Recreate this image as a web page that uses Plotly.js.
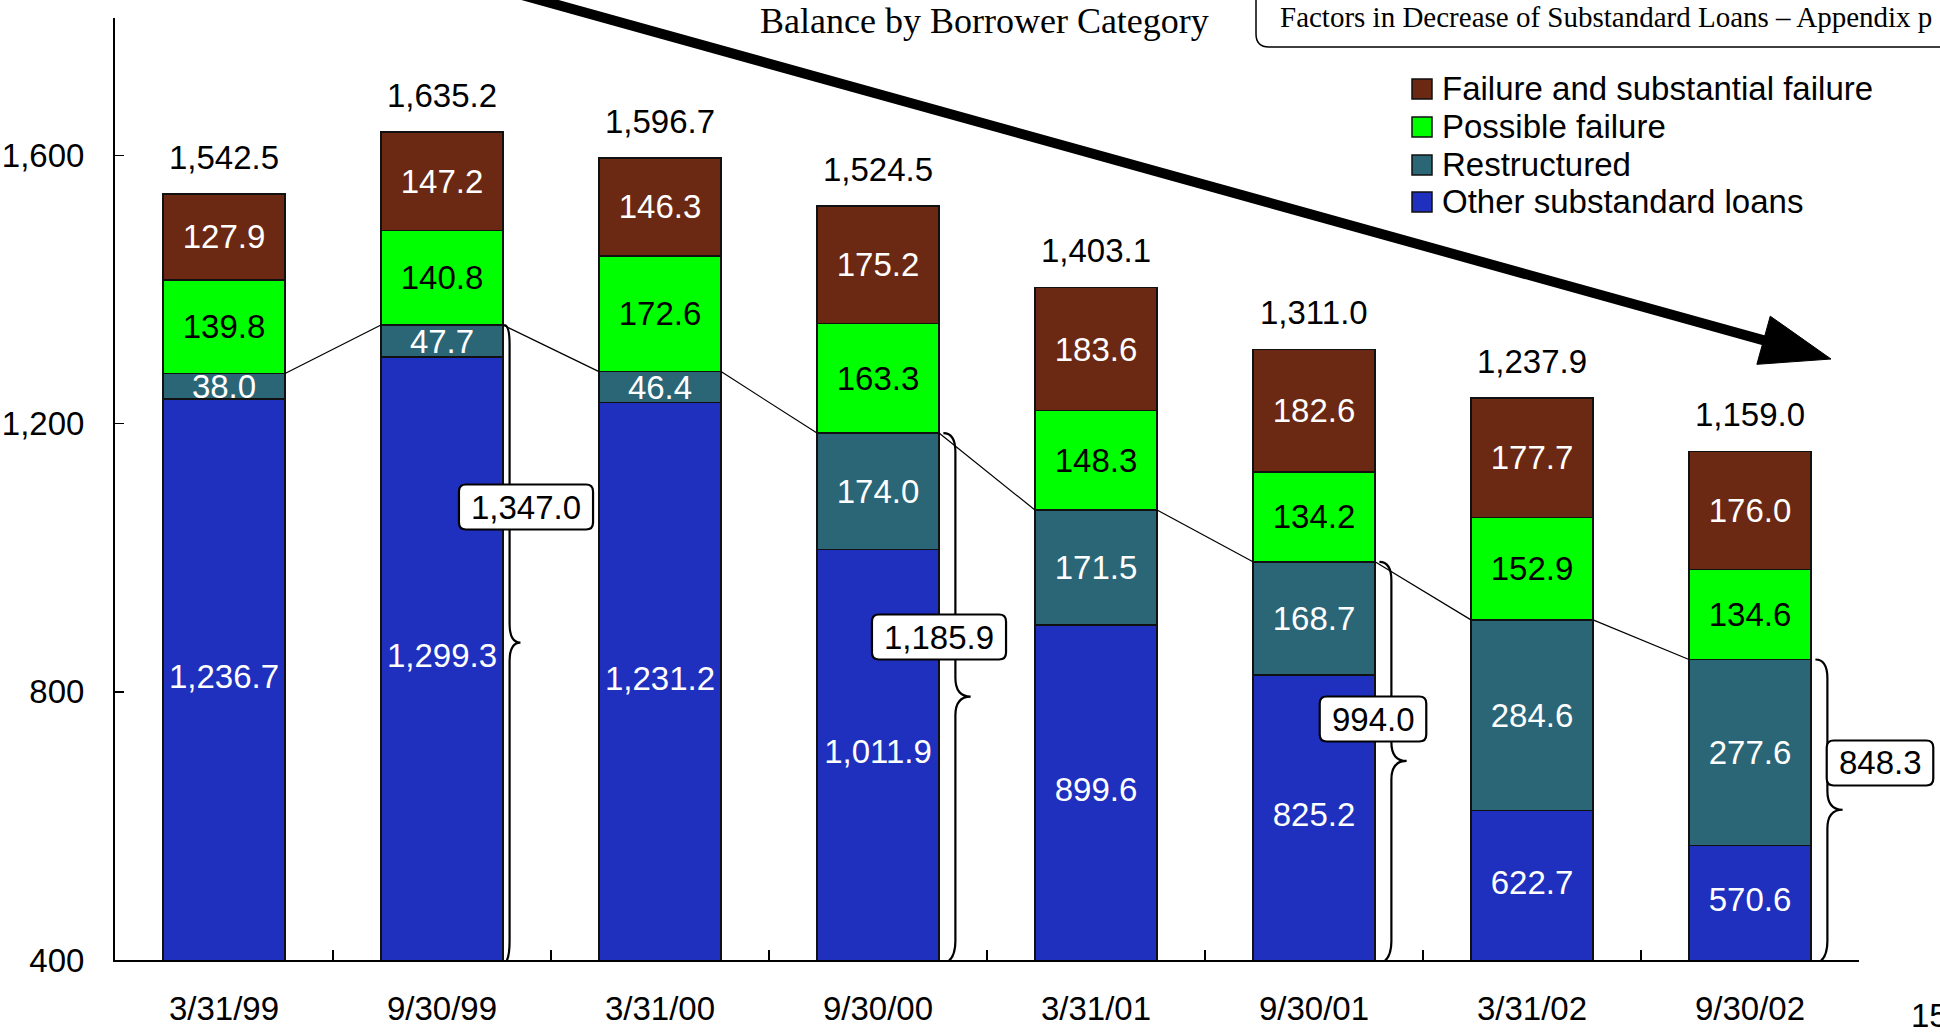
<!DOCTYPE html>
<html>
<head>
<meta charset="utf-8">
<script src="https://cdn.plot.ly/plotly-3.0.1.min.js"></script>
<style>html,body{margin:0;padding:0;background:#fff;}#chart{width:1940px;height:1033px;}</style>
</head>
<body>
<div id="chart"></div>
<script>
const categories = ['3/31/99','9/30/99','3/31/00','9/30/00','3/31/01','9/30/01','3/31/02','9/30/02'];
const seriesNames = ['Other substandard loans','Restructured','Possible failure','Failure and substantial failure'];
const failure = [127.9,147.2,146.3,175.2,183.6,182.6,177.7,176.0];
const possible = [139.8,140.8,172.6,163.3,148.3,134.2,152.9,134.6];
const restructured = [38.0,47.7,46.4,174.0,171.5,168.7,284.6,277.6];
const other = [1236.7,1299.3,1231.2,1011.9,899.6,825.2,622.7,570.6];
const totals = [1542.5,1635.2,1596.7,1524.5,1403.1,1311.0,1237.9,1159.0];
const braceIndex = [1,3,5,7];
const braceValues = [1347.0,1185.9,994.0,848.3];
const yTicks = [400,800,1200,1600];

const FONT = 'Arial, "Liberation Sans", sans-serif';
const SERIF = '"Liberation Serif", "DejaVu Serif", serif';
const FS = 33;
const COLORS = ['#1F30BF','#2B6677','#00FF00','#6B2914'];
const xs = categories.map((c,i)=>i);
const BW = 0.56;
const YMIN = 400, YMAX = 1805;

// plot area pixels
const L=115, R=1859, T=18, B=960;
const PW=R-L, PH=B-T;
const px = x => (x-L)/PW;
const py = y => (B-y)/PH;

const fmt = v => v.toLocaleString('en-US',{minimumFractionDigits:1, maximumFractionDigits:1});

function barTrace(k, vals, textColor, showText){
  return {
    type:'bar', name:seriesNames[k], x:xs, y:vals, width:BW,
    marker:{color:COLORS[k], line:{color:'#111', width:1.5}},
    text: showText ? vals.map(fmt) : null, textposition: showText ? 'inside' : 'none', insidetextanchor:'middle',
    textangle:0, constraintext:'none', cliponaxis:false,
    textfont:{family:FONT, size:FS, color:textColor},
    hoverinfo:'skip', showlegend:false
  };
}

const traces = [
  barTrace(0, other, '#ffffff', false),
  barTrace(1, restructured, '#ffffff', true),
  barTrace(2, possible, '#000000', true),
  barTrace(3, failure, '#ffffff', true),
  // labels of the lowest segment, centred in its visible part (above the axis minimum)
  {type:'scatter', mode:'text', x:xs, y:other.map(v=>(YMIN+v)/2), text:other.map(fmt), textposition:'middle center',
    textfont:{family:FONT, size:FS, color:'#ffffff'}, showlegend:false, hoverinfo:'skip', cliponaxis:false},
  // invisible trace on xaxis2 to show boundary ticks
  {type:'scatter', x:[0], y:[YMIN], xaxis:'x2', mode:'markers', marker:{opacity:0}, showlegend:false, hoverinfo:'skip'}
];

const shapes = [];
const annotations = [];

// totals above bars
xs.forEach((x,i)=>{
  annotations.push({x:x, y:totals[i], xref:'x', yref:'y', text:fmt(totals[i]), showarrow:false,
    yanchor:'bottom', yshift:16, font:{family:FONT, size:FS, color:'#000'}});
});

// connecting lines between tops of (other + restructured)
const base2 = other.map((v,i)=>v+restructured[i]);
for(let i=0;i<xs.length-1;i++){
  shapes.push({type:'line', xref:'x', yref:'y', x0:xs[i]+BW/2, y0:base2[i], x1:xs[i+1]-BW/2, y1:base2[i+1],
    line:{color:'#000', width:1.2}});
}

function roundRect(cx, cy, w, h, r){
  const x0=cx-w/2, x1=cx+w/2, y0=cy-h/2, y1=cy+h/2;
  const P=(x,y)=>`${px(x)},${py(y)}`;
  return `M ${P(x0+r,y0)} L ${P(x1-r,y0)} Q ${P(x1,y0)} ${P(x1,y0+r)} L ${P(x1,y1-r)} Q ${P(x1,y1)} ${P(x1-r,y1)} L ${P(x0+r,y1)} Q ${P(x0,y1)} ${P(x0,y1-r)} L ${P(x0,y0+r)} Q ${P(x0,y0)} ${P(x0+r,y0)} Z`;
}

// braces and labelled boxes (box centres in pixels)
const boxPx = [[526,507],[939,637],[1373,719],[1880,763]];
braceIndex.forEach((bi,k)=>{
  const top = base2[bi];
  const bot = YMIN;
  const mid = (top+bot)/2;
  const xe = xs[bi]+BW/2 + (k===0?0.005:0.02);
  const xb = xs[bi]+BW/2 + (k===0?0.03:0.075);
  const xt = xs[bi]+BW/2 + (k===0?0.08:0.145);
  const r = 28;
  const path = `M ${xe},${top} Q ${xb},${top} ${xb},${top-r} L ${xb},${mid+r} Q ${xb},${mid} ${xt},${mid} Q ${xb},${mid} ${xb},${mid-r} L ${xb},${bot+r} Q ${xb},${bot} ${xe},${bot-6}`;
  shapes.push({type:'path', xref:'x', yref:'y', path:path, line:{color:'#000', width:2.2}, layer:'above'});
  const label = fmt(braceValues[k]);
  const tw = label.split('').reduce((s,c)=>s + ((c===','||c==='.')?0.278:0.556), 0) * FS;
  shapes.push({type:'path', xref:'paper', yref:'paper', path:roundRect(boxPx[k][0], boxPx[k][1], tw+24, 45, 7),
    fillcolor:'#fff', line:{color:'#000', width:2.2}, layer:'above'});
  annotations.push({x:px(boxPx[k][0]), y:py(boxPx[k][1]), xref:'paper', yref:'paper', text:label, showarrow:false,
    xanchor:'center', yanchor:'middle', font:{family:FONT, size:FS, color:'#000'}});
});

// manual legend (top item first)
const legendY = [89,127,165,202];
[3,2,1,0].forEach((k,j)=>{
  const cy = legendY[j];
  shapes.push({type:'rect', xref:'paper', yref:'paper', x0:px(1412), x1:px(1432), y0:py(cy-10), y1:py(cy+10),
    fillcolor:COLORS[k], line:{color:'#111', width:1.5}});
  annotations.push({x:px(1440), y:py(cy), xref:'paper', yref:'paper', xanchor:'left', yanchor:'middle', showarrow:false,
    text:seriesNames[k], font:{family:FONT, size:FS, color:'#000'}});
});

// big arrow
const tail=[522,-5], tip=[1831,359];
const dx=tip[0]-tail[0], dy=tip[1]-tail[1], len=Math.hypot(dx,dy);
const ux=dx/len, uy=dy/len, nx=-uy, ny=ux;
const hl=70, hw=25;
const bc=[tip[0]-hl*ux, tip[1]-hl*uy];
shapes.push({type:'line', xref:'paper', yref:'paper', x0:px(tail[0]), y0:py(tail[1]), x1:px(bc[0]+6*ux), y1:py(bc[1]+6*uy),
  line:{color:'#000', width:10}});
shapes.push({type:'path', xref:'paper', yref:'paper',
  path:`M ${px(tip[0])},${py(tip[1])} L ${px(bc[0]+hw*nx)},${py(bc[1]+hw*ny)} L ${px(bc[0]-hw*nx)},${py(bc[1]-hw*ny)} Z`,
  fillcolor:'#000', line:{color:'#000', width:1}});

// top-right box
shapes.push({type:'path', xref:'paper', yref:'paper',
  path:`M ${px(1256)},${py(-6)} L ${px(1256)},${py(34)} Q ${px(1256)},${py(47)} ${px(1269)},${py(47)} L ${px(1950)},${py(47)}`,
  line:{color:'#000', width:1.5}});
annotations.push({x:px(1278), y:py(17), xref:'paper', yref:'paper', xanchor:'left', yanchor:'middle', showarrow:false,
  text:'Factors in Decrease of Substandard Loans – Appendix p', font:{family:SERIF, size:29, color:'#000'}});

// chart title
annotations.push({x:px(984), y:py(21), xref:'paper', yref:'paper', xanchor:'center', yanchor:'middle', showarrow:false,
  text:'Balance by Borrower Category', font:{family:SERIF, size:36, color:'#000'}});

// page number
annotations.push({x:px(1909), y:py(1015), xref:'paper', yref:'paper', xanchor:'left', yanchor:'middle', showarrow:false,
  text:'15', font:{family:FONT, size:FS, color:'#000'}});

const layout = {
  width:1940, height:1033,
  margin:{l:L, r:1940-R, t:T, b:1033-B, pad:0},
  paper_bgcolor:'#fff', plot_bgcolor:'#fff',
  barmode:'stack',
  showlegend:false,
  xaxis:{range:[-0.5,7.5], tickvals:xs, ticktext:categories, ticks:'', showline:true, linecolor:'#000', linewidth:2,
    showgrid:false, zeroline:false, tickfont:{family:FONT, size:FS, color:'#000'}, ticklabelstandoff:18, fixedrange:true},
  xaxis2:{range:[-0.5,7.5], overlaying:'x', anchor:'y', side:'bottom', tickvals:[0.5,1.5,2.5,3.5,4.5,5.5,6.5,7.5],
    ticks:'inside', ticklen:10, tickwidth:1.5, tickcolor:'#000', showticklabels:false, showline:false, showgrid:false, zeroline:false},
  yaxis:{range:[YMIN,YMAX], tickvals:yTicks, ticktext:yTicks.map(v=>v.toLocaleString('en-US')), ticks:'inside', ticklen:9,
    tickwidth:1.5, tickcolor:'#000', showline:true, linecolor:'#000', linewidth:2, showgrid:false, zeroline:false,
    tickfont:{family:FONT, size:FS, color:'#000'}, ticklabelstandoff:22},
  shapes:shapes,
  annotations:annotations
};

Plotly.newPlot('chart', traces, layout, {staticPlot:true, displayModeBar:false});
</script>
</body>
</html>
